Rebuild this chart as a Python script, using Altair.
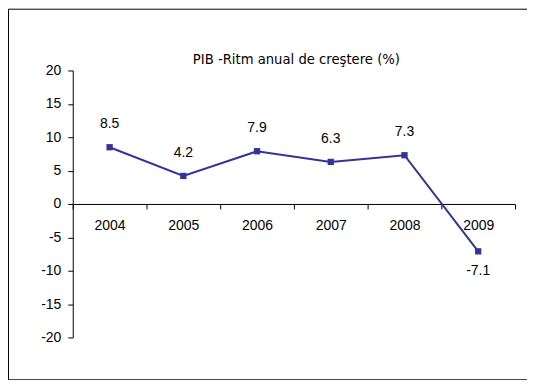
import altair as alt
import pandas as pd

years = ["2004", "2005", "2006", "2007", "2008", "2009"]
growth = [8.5, 4.2, 7.9, 6.3, 7.3, -7.1]
y_ticks = [-20, -15, -10, -5, 0, 5, 10, 15, 20]
title_text = "PIB -Ritm anual de creştere (%)"

df = pd.DataFrame({
    "year": years,
    "pos": [i + 0.5 for i in range(len(years))],
    "value": growth,
})

n = len(years)
x_values = [i / 2 for i in range(2 * n + 1)]
label_expr = "datum.value % 1 === 0 ? '' : [" + ",".join("'" + y + "'" for y in years) + "][floor(datum.value)]"

COLOR = "#333399"
W, H = 521, 372
FONT = "Liberation Sans"
FS = 14

x_enc = alt.X(
    "pos:Q",
    scale=alt.Scale(domain=[0, n], range=[65, 509], nice=False, zero=False),
    axis=alt.Axis(
        values=x_values,
        labelExpr=label_expr,
        title=None,
        grid=False,
        offset=-176,
        tickSize=5,
        tickOpacity={"condition": {"test": "datum.value % 1 === 0", "value": 1}, "value": 0},
        labelPadding=10,
        labelFont=FONT,
        labelFontSize=FS,
        labelColor="black",
        domainColor="black",
        tickColor="black",
        labelFlush=False,
        labelOverlap=False,
    ),
)
y_enc = alt.Y(
    "value:Q",
    scale=alt.Scale(domain=[-20, 20], range=[330, 62], nice=False, zero=False),
    axis=alt.Axis(
        values=y_ticks,
        labelExpr="toString(datum.value)",
        title=None,
        grid=False,
        offset=-65,
        tickSize=5,
        labelPadding=7,
        labelFont=FONT,
        labelFontSize=FS,
        labelColor="black",
        domainColor="black",
        tickColor="black",
        labelFlush=False,
        labelOverlap=False,
    ),
)

base = alt.Chart(df).transform_calculate(label="toString(datum.value)")
line = base.mark_line(color=COLOR, strokeWidth=2).encode(x=x_enc, y=y_enc)
pts = base.mark_point(shape="square", filled=True, size=40, color=COLOR, opacity=1).encode(x="pos:Q", y="value:Q")
lab_pos = base.transform_filter("datum.value >= 0").mark_text(
    dy=-23, font=FONT, fontSize=FS, color="black"
).encode(x="pos:Q", y="value:Q", text="label:N")
lab_neg = base.transform_filter("datum.value < 0").mark_text(
    dy=20, font=FONT, fontSize=FS, color="black"
).encode(x="pos:Q", y="value:Q", text="label:N")

chart = alt.layer(line, pts, lab_pos, lab_neg).properties(
    width=W,
    height=H,
    autosize=alt.AutoSizeParams(type="none"),
    padding=0,
    title=alt.TitleParams(
        title_text,
        font="DejaVu Sans",
        fontSize=13.25,
        fontWeight="normal",
        color="black",
        anchor="middle",
        baseline="alphabetic",
        offset=0,
        dx=29,
        dy=69,
    ),
).configure_view(stroke="black", strokeWidth=1)

chart.save("out.html", embed_options={"renderer": "svg", "actions": False})
